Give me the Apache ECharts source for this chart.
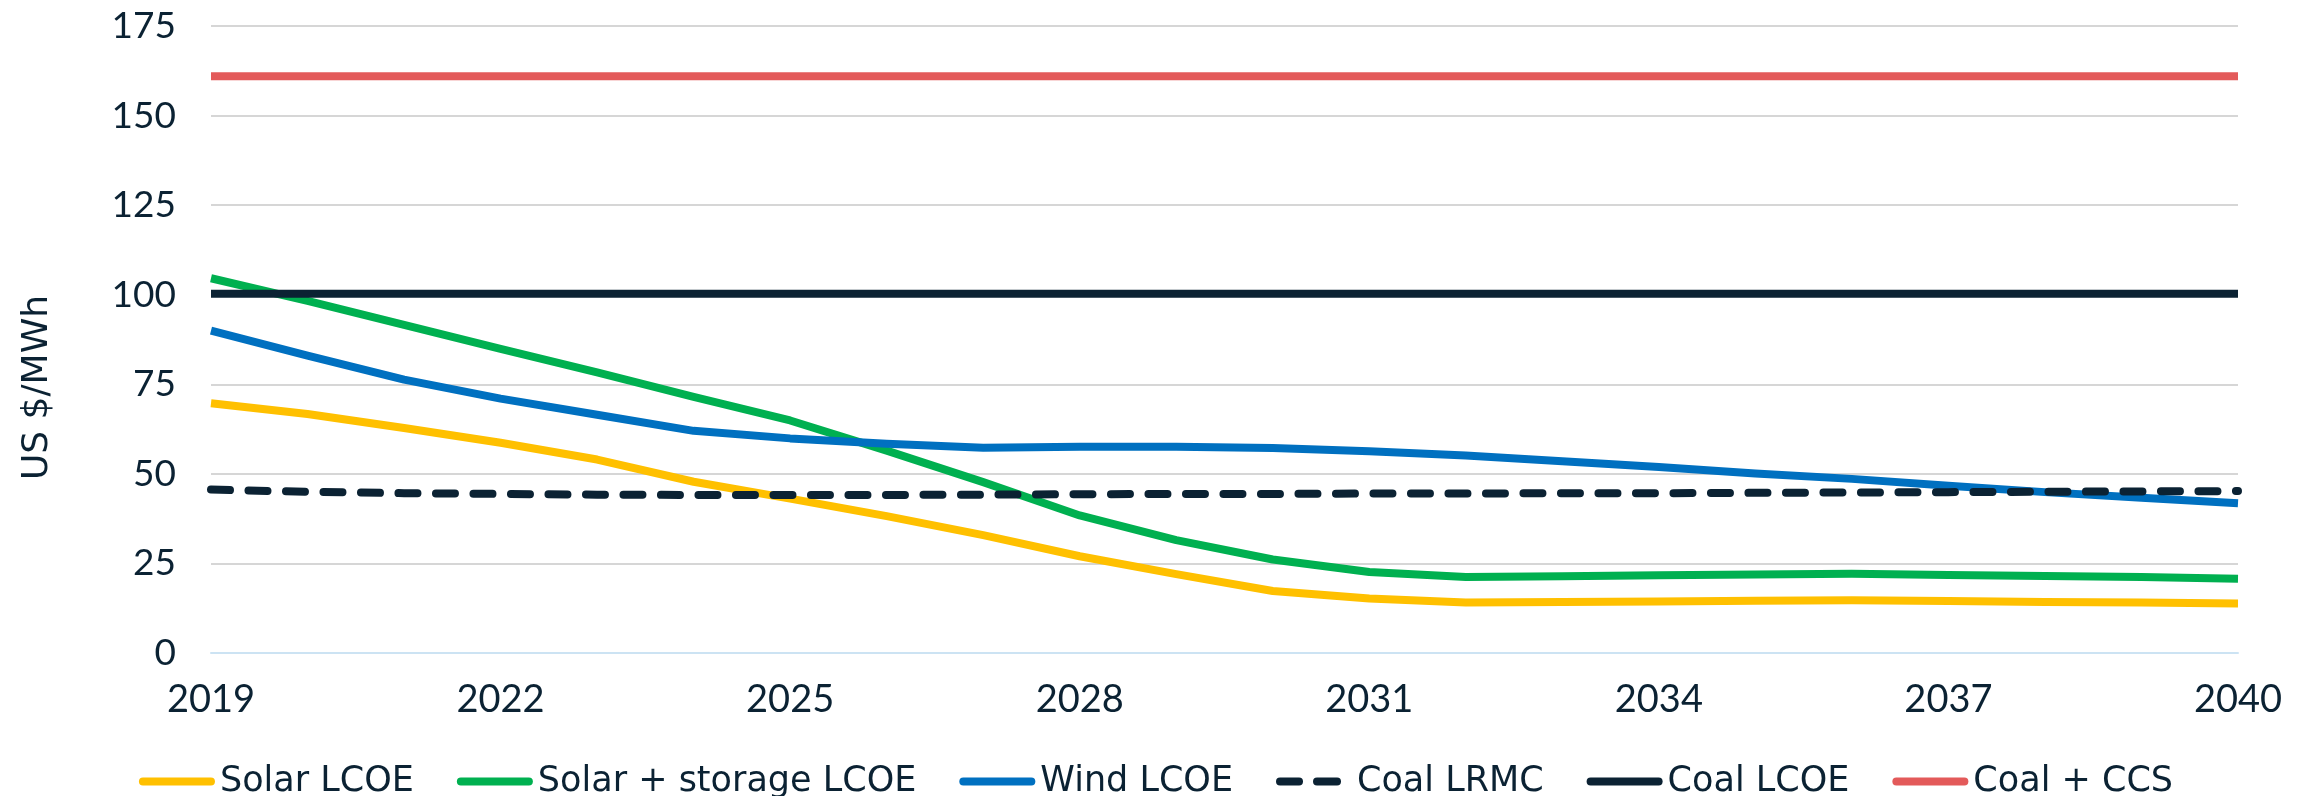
<!DOCTYPE html>
<html>
<head>
<meta charset="utf-8">
<script src="https://cdn.jsdelivr.net/npm/echarts@6/dist/echarts.min.js"></script>
<style>
html,body{margin:0;padding:0;background:#fff;}
#chart{width:2312px;height:796px;}
</style>
</head>
<body>
<div id="chart"></div>
<script>
const years = ['2019','2020','2021','2022','2023','2024','2025','2026','2027','2028','2029','2030','2031','2032','2033','2034','2035','2036','2037','2038','2039','2040'];
const solarLCOE = [69.7,66.7,62.8,58.7,54.0,47.8,43.1,38.2,32.9,27.0,22.0,17.3,15.2,14.1,14.2,14.4,14.6,14.7,14.5,14.2,14.1,13.8];
const solarStorageLCOE = [104.6,98.3,91.6,84.9,78.3,71.5,64.9,56.5,47.7,38.4,31.5,26.1,22.6,21.2,21.4,21.7,21.9,22.1,21.8,21.5,21.2,20.7];
const windLCOE = [90.0,83.0,76.3,71.0,66.5,62.0,59.9,58.4,57.3,57.6,57.6,57.2,56.3,55.1,53.5,51.9,50.1,48.6,46.7,44.9,43.3,41.8];
const coalLRMC = [45.6,45.0,44.6,44.4,44.2,44.1,44.1,44.1,44.2,44.3,44.4,44.4,44.5,44.5,44.6,44.6,44.7,44.8,44.9,45.0,45.1,45.2];
const coalLCOE = [100.3,100.3,100.3,100.3,100.3,100.3,100.3,100.3,100.3,100.3,100.3,100.3,100.3,100.3,100.3,100.3,100.3,100.3,100.3,100.3,100.3,100.3];
const coalCCS = [161,161,161,161,161,161,161,161,161,161,161,161,161,161,161,161,161,161,161,161,161,161];
const seriesNames = ['Solar LCOE','Solar + storage LCOE','Wind LCOE','Coal LRMC','Coal LCOE','Coal + CCS'];
const yTicks = {min:0, max:175, interval:25};

const txt = '#0b2233';
const axisFont = 'Lato, "Open Sans", sans-serif';
const legendFont = '"DejaVu Sans", sans-serif';

const solidIcon = 'path://M4,0 L72,0 A4,4 0 0 1 72,8 L4,8 A4,4 0 0 1 4,0 Z';
const dashIcon = 'path://M4,0 L23,0 A4,4 0 0 1 23,8 L4,8 A4,4 0 0 1 4,0 Z M41,0 L61,0 A4,4 0 0 1 61,8 L41,8 A4,4 0 0 1 41,0 Z M76,4 L76,4.01 Z';

function mk(name, data, color, dash) {
  return {
    name: name, type: 'line', data: data, symbol: 'none', smooth: false,
    lineStyle: {color: color, width: 8, type: dash ? [19, 18.5] : 'solid', cap: dash ? 'round' : 'butt', join: 'round'},
    itemStyle: {color: color},
    emphasis: {disabled: true}
  };
}

const chart = echarts.init(document.getElementById('chart'), null, {renderer: 'canvas'});
chart.setOption({
  animation: false,
  backgroundColor: '#ffffff',
  textStyle: {fontFamily: axisFont, color: txt},
  grid: {left: 211, right: 74, top: 26, bottom: 143, containLabel: false},
  legend: {
    left: 'center', top: 759, itemWidth: 76, itemHeight: 8, itemGap: 43,
    symbolKeepAspect: false,
    textStyle: {fontFamily: legendFont, fontSize: 35, color: txt},
    data: seriesNames.map((n, i) => ({name: n, icon: i === 3 ? dashIcon : solidIcon}))
  },
  xAxis: {
    type: 'category', data: years, boundaryGap: false,
    axisLine: {show: true, lineStyle: {color: '#cce3f3', width: 2}},
    axisTick: {show: false},
    axisLabel: {interval: 2, margin: 28, fontSize: 38, color: txt, fontFamily: axisFont},
    splitLine: {show: false}
  },
  yAxis: {
    type: 'value', min: yTicks.min, max: yTicks.max, interval: yTicks.interval,
    name: 'US $/MWh', nameLocation: 'middle', nameGap: 155, nameRotate: 90,
    nameTextStyle: {fontSize: 36, color: txt, fontFamily: legendFont, padding: [0, 96, 0, 0]},
    axisLine: {show: false}, axisTick: {show: false},
    axisLabel: {margin: 35, fontSize: 37, color: txt, fontFamily: axisFont},
    splitLine: {show: true, lineStyle: {color: '#c8c8c8', width: 1.5}}
  },
  series: [
    mk(seriesNames[0], solarLCOE, '#ffc000', false),
    mk(seriesNames[1], solarStorageLCOE, '#00b050', false),
    mk(seriesNames[2], windLCOE, '#0070c0', false),
    mk(seriesNames[3], coalLRMC, '#0b2233', true),
    mk(seriesNames[4], coalLCOE, '#0b2233', false),
    mk(seriesNames[5], coalCCS, '#e35a5a', false)
  ]
});
</script>
</body>
</html>
